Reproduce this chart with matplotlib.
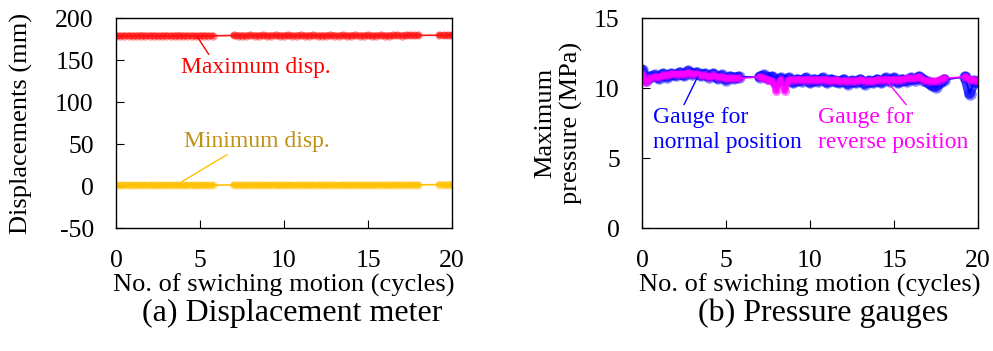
import numpy as np
import matplotlib
matplotlib.use("Agg")
import matplotlib.pyplot as plt

plt.rcParams['font.family'] = ['Liberation Serif', 'DejaVu Serif']
plt.rcParams['font.size'] = 18.5
plt.rcParams['axes.unicode_minus'] = False

# Sample positions (cycles): four recorded stretches with gaps between them
cycles = [0.0, 0.25, 0.5, 0.75, 1.0, 1.25, 1.5, 1.75, 2.0, 2.25, 2.5, 2.75,
          3.0, 3.25, 3.5, 3.75, 4.0, 4.25, 4.5, 4.75, 5.0, 5.25, 5.5, 5.75,
          7.0, 7.25, 7.5, 7.75, 8.0, 8.25, 8.5, 8.75, 9.0, 9.25, 9.5, 9.75,
          10.0, 10.25, 10.5, 10.75, 11.0, 11.25, 11.5, 11.75, 12.0, 12.25,
          12.5, 12.75, 13.0, 13.25, 13.5, 13.75, 14.0, 14.25, 14.5, 14.75,
          15.0, 15.25, 15.5, 15.75, 16.0, 16.25, 16.5,
          16.75, 17.0, 17.25, 17.5, 17.75, 18.0,
          19.25, 19.5, 19.75, 20.0]

# (a) displacement meter, mm
max_disp = [179.2, 178.8, 179.0, 179.1, 178.9, 179.0, 179.2, 178.9, 179.0, 179.1,
            178.8, 179.0, 179.1, 178.9, 179.0, 179.2, 178.9, 179.0, 179.1, 178.8,
            179.0, 179.1, 178.9, 179.0,
            179.3, 179.1, 179.2, 179.0, 179.3, 179.1, 179.2, 179.3, 179.0, 179.2,
            179.3, 179.1, 179.2, 179.3, 179.0, 179.2, 179.3, 179.1, 179.2, 179.3,
            179.0, 179.2, 179.1, 179.3, 179.2, 179.0, 179.3, 179.1, 179.2, 179.3,
            179.1, 179.2, 179.3, 179.0, 179.2, 179.3, 179.1, 179.2, 179.3,
            179.4, 179.2, 179.3, 179.5, 179.3, 179.4,
            179.6, 179.4, 179.5, 179.6]
min_disp = [1.2, 0.8, 1.0, 1.1, 0.9, 1.0, 1.2, 0.9, 1.0, 1.1, 0.8, 1.0,
            1.1, 0.9, 1.0, 1.2, 0.9, 1.0, 1.1, 0.8, 1.0, 1.1, 0.9, 1.0,
            1.3, 1.1, 1.2, 1.0, 1.3, 1.1, 1.2, 1.3, 1.0, 1.2, 1.3, 1.1,
            1.2, 1.3, 1.0, 1.2, 1.3, 1.1, 1.2, 1.3, 1.0, 1.2, 1.1, 1.3,
            1.2, 1.0, 1.3, 1.1, 1.2, 1.3, 1.1, 1.2, 1.3, 1.0, 1.2, 1.3,
            1.1, 1.2, 1.3,
            1.4, 1.2, 1.3, 1.5, 1.3, 1.4,
            1.8, 1.6, 1.7, 1.8]

# (b) pressure gauges, MPa
p_normal = [11.3, 10.6, 10.8, 10.9, 10.7, 11.0, 10.8, 11.0, 10.9, 11.1, 10.9, 11.2,
            11.0, 11.1, 10.9, 11.0, 10.8, 11.0, 10.7, 10.9, 10.6, 10.8, 10.7, 10.8,
            10.8, 10.9, 10.7, 10.8, 10.4, 10.7, 10.5, 10.7, 10.4, 10.6, 10.5, 10.7,
            10.4, 10.6, 10.5, 10.7, 10.4, 10.6, 10.5, 10.4, 10.6, 10.3, 10.5, 10.4,
            10.6, 10.3, 10.5, 10.4, 10.6, 10.4, 10.7, 10.5, 10.7, 10.4, 10.6, 10.5,
            10.7, 10.6, 10.8,
            10.6, 10.4, 10.2, 10.1, 10.4, 10.6,
            10.8, 9.6, 10.5, 10.4]
p_reverse = [11.0, 10.4, 10.7, 10.8, 10.8, 10.9, 10.9, 11.0, 11.0, 11.0, 11.0, 11.1,
             11.0, 11.0, 10.9, 10.9, 10.8, 10.9, 10.8, 10.8, 10.7, 10.7, 10.7, 10.7,
             10.8, 10.7, 10.6, 10.5, 9.8, 10.6, 9.8, 10.6, 10.6, 10.6, 10.6, 10.6,
             10.6, 10.6, 10.6, 10.6, 10.6, 10.5, 10.6, 10.5, 10.5, 10.5, 10.5, 10.5,
             10.6, 10.5, 10.5, 10.5, 10.6, 10.6, 10.6, 10.6, 10.6, 10.6, 10.6, 10.7,
             10.7, 10.7, 10.8,
             10.6, 10.5, 10.5, 10.5, 10.6, 10.7,
             10.8, 10.6, 10.6, 10.5]

xticks = [0, 5, 10, 15, 20]


def split_runs(x, y):
    # split the record where the time gap is large (no data recorded there)
    x = np.asarray(x)
    y = np.asarray(y)
    cut = np.where(np.diff(x) > 0.5)[0] + 1
    return zip(np.split(x, cut), np.split(y, cut))


def draw_series(ax, x, y, color, band, ms, alpha):
    for sx, sy in split_runs(x, y):
        ax.plot(sx, sy, color=color, lw=band, alpha=alpha,
                solid_capstyle='round', solid_joinstyle='round')
    ax.plot(x, y, color=color, lw=1.2, marker='o', ms=ms,
            mfc=color, mec='none', alpha=alpha * 0.6)
    ax.plot(x, y, color=color, lw=1.0)


fig = plt.figure(figsize=(9.93, 3.51), dpi=100)
ax1 = fig.add_axes([0.1168, 0.3504, 0.3384, 0.598])
ax2 = fig.add_axes([0.6465, 0.3504, 0.3384, 0.598])


def style_axis(ax):
    ax.set_xlim(0, 20)
    ax.set_xticks(xticks)
    ax.tick_params(direction='in', length=6, width=0.8, pad=16, top=False, right=False)
    for s in ax.spines.values():
        s.set_linewidth(1.0)
    ax.set_xlabel('No. of swiching motion (cycles)', fontsize=19, va='top')
    ax.xaxis.set_label_coords(0.5, -0.215)


# (a) displacement
draw_series(ax1, cycles, max_disp, '#ff1010', 4.5, 6, 0.75)
draw_series(ax1, cycles, min_disp, '#ffc000', 4.5, 6, 0.75)
ax1.set_ylim(-50, 200)
ax1.set_yticks([-50, 0, 50, 100, 150, 200])
style_axis(ax1)
ax1.set_ylabel('Displacements (mm)', fontsize=19)
ax1.yaxis.set_label_coords(-0.247, 0.5)
ax1.annotate('Maximum disp.', xy=(4.8, 179), xytext=(8.3, 141), fontsize=17,
             color='#ff0000', ha='center', va='center',
             arrowprops=dict(arrowstyle='-', color='#ff0000', lw=1,
                             shrinkA=0, shrinkB=0, relpos=(0.2, 1.0)))
ax1.annotate('Minimum disp.', xy=(3.9, 5), xytext=(8.4, 53), fontsize=17,
             color='#c09010', ha='center', va='center',
             arrowprops=dict(arrowstyle='-', color='#ffc000', lw=1,
                             shrinkA=0, shrinkB=0, relpos=(0.3, -0.1)))

# (b) pressure
draw_series(ax2, cycles, p_normal, '#0000ff', 7.5, 9, 0.75)
draw_series(ax2, cycles, p_reverse, '#ff00ff', 4.5, 6.5, 0.85)
ax2.set_ylim(0, 15)
ax2.set_yticks([0, 5, 10, 15])
style_axis(ax2)
ax2.set_ylabel('Maximum\npressure (MPa)', fontsize=19, linespacing=1.2)
ax2.yaxis.set_label_coords(-0.176, 0.5)
ax2.annotate('Gauge for\nnormal position', xy=(3.33, 10.84), xytext=(0.65, 7.0),
             color='#0000ff', ha='left', va='center', fontsize=17, linespacing=1.2,
             arrowprops=dict(arrowstyle='-', color='#0000ff', lw=1,
                             shrinkA=0, shrinkB=0, relpos=(0.2, 1.0)))
ax2.annotate('Gauge for\nreverse position', xy=(14.64, 10.4), xytext=(10.5, 7.0),
             color='#ff00ff', ha='left', va='center', fontsize=17, linespacing=1.2,
             arrowprops=dict(arrowstyle='-', color='#ff00ff', lw=1,
                             shrinkA=0, shrinkB=0, relpos=(0.6, 1.0)))

fig.text(292 / 993, 1 - 313 / 351, '(a) Displacement meter',
         ha='center', va='center', fontsize=23)
fig.text(823 / 993, 1 - 313 / 351, '(b) Pressure gauges',
         ha='center', va='center', fontsize=23)

fig.savefig('out.png', dpi=100)
